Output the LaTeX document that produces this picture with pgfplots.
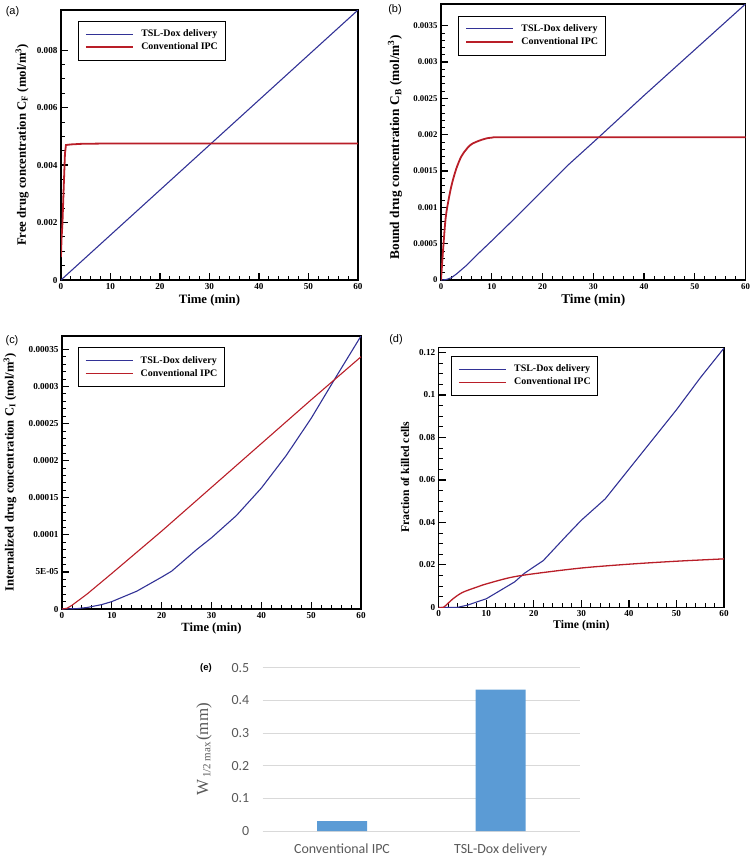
\documentclass[border=0pt]{standalone}
\usepackage{pgfplots}
\pgfplotsset{compat=1.18}
\usepackage{fontspec}
\setmainfont{Liberation Serif}
\newfontfamily\arialf{Liberation Sans}
\newfontfamily\calib{Carlito}
\definecolor{cblue}{RGB}{50,50,150}
\definecolor{cred}{RGB}{185,30,40}
\definecolor{ebar}{RGB}{91,155,213}
\definecolor{egrid}{RGB}{217,217,217}
\definecolor{etext}{RGB}{89,89,89}
\pgfplotsset{
  panel/.style={
    scale only axis,
    anchor=south west,
    xmin=0, xmax=60, ymin=0,
    xtick={0,10,20,30,40,50,60},
    minor x tick num=4,
    tick pos=left,
    tick align=inside,
    axis line style={line width=1.3bp},
    major tick length=7bp,
    minor tick length=4bp,
    major tick style={black, line width=1.3bp},
    minor tick style={black, line width=0.9bp},
    /pgf/number format/assume math mode=true,
    tick label style={font=\bfseries\fontsize{9.2}{10}\selectfont},
    xlabel={Time (min)},
    scaled ticks=false,
    legend cell align=left,
    legend style={draw=black, line width=0.7bp, fill=white,
      font=\bfseries\fontsize{10}{11}\selectfont, anchor=north west,
      inner xsep=7bp, inner ysep=8bp, row sep=3bp, column sep=7.5bp,
      nodes={inner sep=0bp, text depth=2.5bp, text height=7.5bp}},
    legend image code/.code={\draw[##1] (0bp,0bp) -- (47bp,0bp);},
  }
}
\begin{document}
\begin{tikzpicture}
\path[use as bounding box] (0,0) rectangle (754bp,-863bp);
% (a)
\begin{axis}[panel, at={(61bp,-280bp)}, width=297bp, height=270bp,
  ymax=0.0094, ytick={0,0.002,0.004,0.006,0.008},
  yticklabels={0,0.002,0.004,0.006,0.008}, minor y tick num=3,
  label style={font=\bfseries\fontsize{12.8}{14}\selectfont},
  ylabel={Free drug concentration C\textsubscript{F} (mol/m\textsuperscript{3})},
  every axis y label/.append style={at={(axis description cs:-0.131,0.5)}, anchor=center},
  every axis x label/.append style={at={(axis description cs:0.5,-0.076)}, anchor=center},
  legend style={at={(axis description cs:0.056,0.960)}}]
\addplot[cblue, line width=1.1bp] coordinates {(0,0) (60,0.0094)};
\addplot[cred, line width=1.8bp] coordinates {(0,0.0008) (0.1,0.0014) (0.3,0.002) (0.5,0.003) (0.8,0.0044) (1,0.0047) (2,0.00472) (4,0.00474) (8,0.00475) (60,0.00475)};
\legend{TSL-Dox delivery, Conventional IPC}
\end{axis}
% (b)
\begin{axis}[panel, at={(441bp,-280bp)}, width=304.5bp, height=276bp,
  ymax=0.0038, ytick={0,0.0005,0.001,0.0015,0.002,0.0025,0.003,0.0035},
  yticklabels={0,0.0005,0.001,0.0015,0.002,0.0025,0.003,0.0035}, minor y tick num=4,
  tick label style={font=\bfseries\fontsize{8.8}{10}\selectfont},
  label style={font=\bfseries\fontsize{13.4}{15}\selectfont},
  ylabel={Bound drug concentration C\textsubscript{B} (mol/m\textsuperscript{3})},
  every axis y label/.append style={at={(axis description cs:-0.151,0.48)}, anchor=center},
  every axis x label/.append style={at={(axis description cs:0.5,-0.074)}, anchor=center},
  legend style={at={(axis description cs:0.055,0.958)}}]
\addplot[cblue, line width=1.1bp] coordinates {(0,0) (1,0.000005) (2,0.00003) (3,0.00008) (4,0.00014) (5,0.0002) (7,0.00034) (10,0.00054) (15,0.00088) (20,0.00123) (25,0.00158) (31,0.00196) (40,0.00254) (50,0.00317) (60,0.0038)};
\addplot[cred, line width=1.8bp, smooth] coordinates {(0,0) (0.5,0.0005) (1,0.0009) (2,0.00128) (3,0.00153) (4,0.0017) (5,0.0018) (6,0.00187) (8,0.00193) (10,0.00196) (15,0.001965) (60,0.001965)};
\legend{TSL-Dox delivery, Conventional IPC}
\end{axis}
% (c)
\begin{axis}[panel, at={(62bp,-609bp)}, width=299bp, height=273bp,
  ymax=0.000368, ytick={0,0.00005,0.0001,0.00015,0.0002,0.00025,0.0003,0.00035},
  yticklabels={0,5E-05,0.0001,0.00015,0.0002,0.00025,0.0003,0.00035}, minor y tick num=4,
  label style={font=\bfseries\fontsize{12.6}{14}\selectfont},
  ylabel={Internalized drug concentration C\textsubscript{I} (mol/m\textsuperscript{3})},
  every axis y label/.append style={at={(axis description cs:-0.174,0.5)}, anchor=center},
  every axis x label/.append style={at={(axis description cs:0.5,-0.072)}, anchor=center},
  legend style={at={(axis description cs:0.0525,0.9586)}}]
\addplot[cblue, line width=1.1bp] coordinates {(0,0) (3,0.0000005) (5,0.000002) (8,0.000006) (10,0.00001) (15,0.000024) (20,0.000043) (22,0.000051) (27,0.00008) (30,0.000096) (35,0.000126) (40,0.000163) (45,0.000207) (50,0.000257) (55,0.000313) (60,0.000368)};
\addplot[cred, line width=1.1bp] coordinates {(0,0) (1,0.000001) (2,0.000005) (3,0.00001) (5,0.00002) (10,0.000048) (20,0.000105) (30,0.000164) (40,0.000223) (50,0.000282) (60,0.00034)};
\legend{TSL-Dox delivery, Conventional IPC}
\end{axis}
% (d)
\begin{axis}[panel, at={(438.7bp,-607.3bp)}, width=285.3bp, height=260bp,
  ymax=0.1224, ytick={0,0.02,0.04,0.06,0.08,0.1,0.12},
  yticklabels={0,0.02,0.04,0.06,0.08,0.1,0.12}, minor y tick num=3,
  label style={font=\bfseries\fontsize{11.8}{13}\selectfont},
  ylabel={Fraction of killed cells},
  every axis y label/.append style={at={(axis description cs:-0.118,0.5)}, anchor=center},
  every axis x label/.append style={at={(axis description cs:0.5,-0.07)}, anchor=center},
  legend style={at={(axis description cs:0.043,0.9665)}}]
\addplot[cblue, line width=1.1bp] coordinates {(0,0) (4,0) (6,0.001) (10,0.004) (16,0.012) (18,0.016) (22,0.022) (27,0.034) (30,0.041) (35,0.051) (40,0.065) (45,0.079) (50,0.093) (55,0.108) (60,0.122)};
\addplot[cred, line width=1.3bp, smooth] coordinates {(0,0) (1,0) (3,0.004) (5,0.007) (8,0.0095) (10,0.011) (15,0.014) (20,0.0158) (30,0.0185) (40,0.0203) (50,0.0217) (60,0.0228)};
\legend{TSL-Dox delivery, Conventional IPC}
\end{axis}
% (e)
\begin{axis}[at={(262.7bp,-831bp)}, anchor=south west, scale only axis,
  width=317.3bp, height=163.3bp,
  ymin=0, ymax=0.5, xmin=-0.5, xmax=1.5,
  xtick={0,1}, xticklabels={Conventional IPC, TSL-Dox delivery},
  ytick={0,0.1,0.2,0.3,0.4,0.5}, yticklabels={0,0.1,0.2,0.3,0.4,0.5},
  ymajorgrids, grid style={egrid, line width=1bp},
  axis x line*=bottom, axis y line*=left, axis line style={draw=none},
  tick style={draw=none},
  /pgf/number format/assume math mode=true,
  tick label style={font=\calib\fontsize{14}{16}\selectfont, text=etext},
  yticklabel shift=10bp, xticklabel shift=9bp,
  ylabel={{\fontsize{17}{18}\selectfont W}\,\raisebox{-0.5ex}{\fontsize{11}{12}\selectfont 1/2 max}\,{\fontsize{17}{18}\selectfont (mm)}},
  every axis y label/.append style={at={(axis description cs:-0.185,0.5)}, anchor=center, text=etext}]
\addplot[ybar, bar width=50bp, fill=ebar, draw=none] coordinates {(0,0.03) (1,0.433)};
\end{axis}
% panel labels
\node[font=\arialf\fontsize{11}{12}\selectfont] at (12.5bp,-12bp) {(a)};
\node[font=\arialf\fontsize{11}{12}\selectfont] at (395bp,-10bp) {(b)};
\node[font=\arialf\fontsize{11}{12}\selectfont] at (12bp,-341bp) {(c)};
\node[font=\arialf\fontsize{11}{12}\selectfont] at (396bp,-340bp) {(d)};
\node[font=\arialf\bfseries\fontsize{9.5}{11}\selectfont] at (206bp,-668bp) {(e)};
\end{tikzpicture}
\end{document}
